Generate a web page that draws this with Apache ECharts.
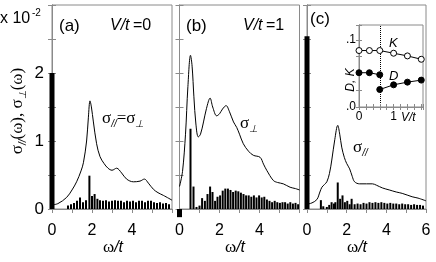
<!DOCTYPE html>
<html><head><meta charset="utf-8">
<script src="https://cdn.jsdelivr.net/npm/echarts@6/dist/echarts.min.js"></script>
<style>html,body{margin:0;padding:0;background:#fff}#c{width:436px;height:262px}</style>
</head><body><div id="c"></div><script>
// ---- data (sigma in units of 10^-2, omega in units of t) ----
const curveA = [[0,0.06],[0.3,0.08],[0.73,0.17],[1.0,0.28],[1.23,0.4],[1.45,0.56],[1.57,0.68],[1.73,1.0],[1.82,1.35],[1.9,1.59],[1.97,1.5],[2.07,1.28],[2.23,0.96],[2.4,0.77],[2.6,0.67],[2.8,0.6],[3.0,0.57],[3.23,0.6],[3.48,0.53],[3.73,0.44],[4.07,0.4],[4.4,0.41],[4.62,0.44],[4.82,0.38],[5.07,0.29],[5.3,0.24],[5.57,0.2],[6.0,0.13]];
const barsA = [[0.8,0.05],[0.95,0.07],[1.1,0.09],[1.25,0.12],[1.4,0.17],[1.55,0.1],[1.7,0.13],[1.87,0.49],[2.0,0.19],[2.13,0.22],[2.27,0.15],[2.4,0.13],[2.55,0.12],[2.7,0.13],[2.85,0.11],[3.0,0.12],[3.15,0.13],[3.3,0.12],[3.45,0.12],[3.6,0.1],[3.75,0.12],[3.9,0.11],[4.05,0.12],[4.2,0.1],[4.35,0.12],[4.5,0.12],[4.65,0.1],[4.8,0.12],[4.95,0.12],[5.1,0.1],[5.25,0.09],[5.4,0.1],[5.55,0.08],[5.7,0.09],[5.85,0.07]];
const drudeA = [[0,2.0]];

const curveB = [[0,0.33],[0.15,0.55],[0.3,1.1],[0.42,1.8],[0.55,2.26],[0.63,2.1],[0.72,1.65],[0.82,1.25],[0.94,1.06],[1.05,1.1],[1.2,1.28],[1.35,1.48],[1.53,1.63],[1.66,1.5],[1.86,1.37],[2.0,1.4],[2.15,1.47],[2.33,1.52],[2.5,1.43],[2.7,1.28],[2.86,1.2],[3.0,1.1],[3.19,0.96],[3.45,0.85],[3.69,0.79],[4.03,0.76],[4.2,0.66],[4.36,0.57],[4.69,0.42],[4.9,0.39],[5.19,0.37],[5.53,0.32],[5.8,0.3],[6.0,0.28]];
const barsB = [[0.55,1.18],[0.7,0.33],[0.85,0.03],[1.0,0.05],[1.13,0.16],[1.27,0.12],[1.4,0.22],[1.53,0.33],[1.65,0.25],[1.78,0.12],[1.9,0.18],[2.03,0.2],[2.16,0.27],[2.29,0.3],[2.42,0.3],[2.55,0.28],[2.68,0.25],[2.81,0.27],[2.94,0.26],[3.07,0.24],[3.2,0.22],[3.33,0.2],[3.46,0.2],[3.59,0.18],[3.72,0.2],[3.85,0.17],[3.98,0.2],[4.11,0.17],[4.24,0.18],[4.37,0.14],[4.5,0.12],[4.63,0.1],[4.76,0.12],[4.89,0.1],[5.02,0.09],[5.15,0.1],[5.28,0.1],[5.41,0.08],[5.54,0.1],[5.67,0.08],[5.8,0.09],[5.93,0.07]];
const drudeB = [[0,-0.12]];

const curveC = [[0,0.07],[0.25,0.09],[0.5,0.14],[0.65,0.25],[0.75,0.32],[0.88,0.36],[1.0,0.4],[1.13,0.52],[1.25,0.72],[1.4,1.02],[1.55,1.23],[1.65,1.1],[1.75,0.91],[1.88,0.76],[2.0,0.67],[2.15,0.59],[2.28,0.48],[2.4,0.4],[2.65,0.37],[3.0,0.37],[3.3,0.37],[3.5,0.35],[3.8,0.31],[4.15,0.28],[4.5,0.25],[4.8,0.23],[5.3,0.18],[5.6,0.16],[6.0,0.12]];
const barsC = [[0.7,0.13],[0.82,0.04],[1.0,0.03],[1.12,0.06],[1.24,0.1],[1.36,0.08],[1.43,0.1],[1.55,0.39],[1.67,0.15],[1.79,0.2],[1.91,0.1],[2.03,0.12],[2.15,0.07],[2.25,0.15],[2.4,0.07],[2.55,0.08],[2.7,0.07],[2.85,0.09],[3.0,0.08],[3.15,0.1],[3.3,0.09],[3.45,0.1],[3.6,0.09],[3.75,0.1],[3.9,0.09],[4.05,0.08],[4.2,0.09],[4.35,0.08],[4.5,0.08],[4.65,0.07],[4.8,0.08],[4.95,0.07],[5.1,0.07],[5.25,0.06],[5.4,0.07],[5.55,0.06],[5.7,0.06],[5.85,0.05]];
const drudeC = [[0,2.54]];

// inset: D and K vs V/t
const insetK  = [[0,0.084],[0.3,0.084],[0.6,0.084],[1.0,0.08],[1.4,0.076],[1.8,0.071]];
const insetD1 = [[0,0.051],[0.3,0.051],[0.6,0.048]];
const insetD2 = [[0.6,0.026],[1.0,0.033],[1.4,0.037],[1.8,0.040]];
const insetCritical = 0.6;

// tick labels
const xLabelsAB = [0,2,4];
const xLabelsC = [0,2,4,6];
const yLabelsA = [0,1,2];
const insetXLabels = [0,1];
const insetYLabels = [[0,'.0'],[0.1,'.1']];

// ---- layout / styling ----
const SANS = 'Liberation Sans', SERIF = 'Liberation Serif';
const GRAY = '#8a8a8a';
const panels = [
  {left:52, width:120, curve:curveA, bars:barsA, drude:drudeA, xl:xLabelsAB, yl:yLabelsA},
  {left:179.5, width:120, curve:curveB, bars:barsB, drude:drudeB, xl:xLabelsAB, yl:[]},
  {left:307, width:119, curve:curveC, bars:barsC, drude:drudeC, xl:xLabelsC, yl:[]}
];
const near = (v, arr) => arr.some(a => Math.abs(a - v) < 1e-6);
const grid = [], xAxis = [], yAxis = [], series = [];
const axLine = {show:true, lineStyle:{color:GRAY, width:1}};
panels.forEach((p, i) => {
  grid.push({left:p.left, top:5, width:p.width, height:204, show:true, borderColor:GRAY, borderWidth:1, backgroundColor:'transparent'});
  xAxis.push({type:'value', gridIndex:i, min:0, max:6, interval:2, position:'bottom',
    axisLine:axLine, axisTick:{show:true, inside:false, length:3, lineStyle:{color:GRAY}},
    axisLabel:{show:true, fontSize:16, fontFamily:SANS, color:'#000', margin:14,
      formatter: v => near(v, p.xl) ? String(Math.round(v)) : ''},
    splitLine:{show:false}});
  xAxis.push({type:'value', gridIndex:i, min:0, max:6, interval:1, position:'top',
    axisLine:axLine, axisTick:{show:true, inside:true, length:4, lineStyle:{color:GRAY}},
    axisLabel:{show:false}, splitLine:{show:false}});
  yAxis.push({type:'value', gridIndex:i, min:0, max:3, interval:0.5, position:'left',
    axisLine:axLine, axisTick:{show:true, inside:true, length:4, lineStyle:{color:GRAY}},
    axisLabel:{show:p.yl.length>0, fontSize:17, fontFamily:SANS, color:'#000', margin:8,
      formatter: v => near(v, p.yl) ? String(Math.round(v)) : ''},
    splitLine:{show:false}});
  yAxis.push({type:'value', gridIndex:i, min:0, max:3, interval:0.5, position:'right',
    axisLine:axLine, axisTick:{show:true, inside:true, length:4, lineStyle:{color:GRAY}},
    axisLabel:{show:false}, splitLine:{show:false}});
  series.push({type:'line', xAxisIndex:2*i, yAxisIndex:2*i, data:p.curve, showSymbol:false, smooth:0.35,
    lineStyle:{color:'#000', width:1}, z:3});
  series.push({type:'bar', xAxisIndex:2*i, yAxisIndex:2*i, data:p.bars, barWidth:2, itemStyle:{color:'#000'}, z:2});
  series.push({type:'bar', xAxisIndex:2*i+1, yAxisIndex:2*i, data:p.drude, barWidth:5, clip:false, itemStyle:{color:'#000'}, z:4});
});
// inset grid (index 3)
grid.push({left:359, top:25, width:64, height:82, show:true, borderColor:GRAY, borderWidth:1, backgroundColor:'#fff', z:5});
xAxis.push({type:'value', gridIndex:3, min:0, max:1.85, interval:0.2, position:'bottom', z:6,
  axisLine:axLine, axisTick:{show:true, inside:true, length:3, lineStyle:{color:GRAY}},
  axisLabel:{fontSize:12, fontFamily:SANS, color:'#000', margin:4,
    formatter: v => near(v, insetXLabels) ? String(Math.round(v)) : ''},
  splitLine:{show:false}});
xAxis.push({type:'value', gridIndex:3, min:0, max:1.85, interval:0.2, position:'top', z:6,
  axisLine:axLine, axisTick:{show:true, inside:true, length:3, lineStyle:{color:GRAY}},
  axisLabel:{show:false}, splitLine:{show:false}});
yAxis.push({type:'value', gridIndex:3, min:0, max:0.122, interval:0.025, position:'left', z:6,
  axisLine:axLine, axisTick:{show:true, inside:true, length:3, lineStyle:{color:GRAY}},
  axisLabel:{fontSize:12, fontFamily:SANS, color:'#000', margin:3,
    formatter: v => { const f = insetYLabels.find(a => Math.abs(a[0]-v) < 1e-6); return f ? f[1] : ''; }},
  splitLine:{show:false}});
yAxis.push({type:'value', gridIndex:3, min:0, max:0.122, interval:0.025, position:'right', z:6,
  axisLine:axLine, axisTick:{show:true, inside:true, length:3, lineStyle:{color:GRAY}},
  axisLabel:{show:false}, splitLine:{show:false}});
const insetLine = (data, fill, extra) => Object.assign({type:'line', xAxisIndex:6, yAxisIndex:6, data, clip:false,
  symbol:'circle', symbolSize:6, showSymbol:true, z:8,
  lineStyle:{color:'#000', width:1}, itemStyle:{color:fill, borderColor:'#000', borderWidth:1}}, extra || {});
series.push(insetLine(insetK, '#fff', {markLine:{silent:true, symbol:['none','none'], label:{show:false},
  lineStyle:{color:'#000', width:1, type:'dotted'}, data:[{xAxis:insetCritical}]}}));
series.push(insetLine(insetD1, '#000'));
series.push(insetLine(insetD2, '#000'));

// ---- texts ----
const T = (x, y, text, rich, extra) => Object.assign({type:'text', x, y, z:20,
  style:{text, rich, fill:'#000', align:'left', verticalAlign:'middle', textAlign:'left', textVerticalAlign:'middle'}}, extra || {});
const C = (x, y, text, rich, rot) => ({type:'text', x, y, z:20, rotation:rot || 0,
  style:{text, rich, fill:'#000', align:'center', verticalAlign:'middle', textAlign:'center', textVerticalAlign:'middle'}});
const r = {
  n:{fontSize:16, fontFamily:SANS, lineHeight:20},
  i:{fontSize:16, fontFamily:SANS, fontStyle:'italic', lineHeight:20},
  g:{fontSize:17, fontFamily:SERIF, lineHeight:20},
  sub:{fontSize:10, fontFamily:SANS, fontStyle:'italic', lineHeight:9, verticalAlign:'bottom'},
  sm:{fontSize:12, fontFamily:SANS, fontStyle:'italic', lineHeight:14},
  tiny:{fontSize:10, fontFamily:SANS, lineHeight:10}
};
const big = {n:{fontSize:17, fontFamily:SANS}};
const lbl = {sm:{fontSize:13, fontFamily:SANS, fontStyle:'italic'}};
const graphic = [
  T(0, 19, '{n|x 10}', r),
  T(32, 13, '{tiny|-2}', r),
  T(59, 26, '{n|(a)}', big),
  T(110, 26, '{i|V/t} {n|=0}', r),
  T(186, 26, '{n|(b)}', big),
  T(243, 26, '{i|V/t} {n|=1}', r),
  T(310, 19, '{n|(c)}', big),
  T(102, 119, '{g|σ}{sub|//}{g|=σ}{sub|⊥}', r),
  T(240, 124, '{g|σ}{sub|⊥}', r),
  T(353, 148, '{g|σ}{sub|//}', r),
  C(113, 248, '{g|ω}{i|/t}', r),
  C(235, 248, '{g|ω}{i|/t}', r),
  C(357, 248, '{g|ω}{i|/t}', r),
  C(18, 111, '{g|σ}{sub|//}{g|(ω), σ}{sub|⊥}{g|(ω)}', r, Math.PI/2),
  T(401, 118, '{sm|V/t}', r),
  C(351, 80, '{sm|D, K}', r, Math.PI/2),
  T(389, 43, '{sm|K}', lbl),
  T(389, 76, '{sm|D}', lbl)
];

const chart = echarts.init(document.getElementById('c'), null, {renderer:'canvas'});
chart.setOption({animation:false, backgroundColor:'#fff', grid, xAxis, yAxis, series, graphic});
</script></body></html>
